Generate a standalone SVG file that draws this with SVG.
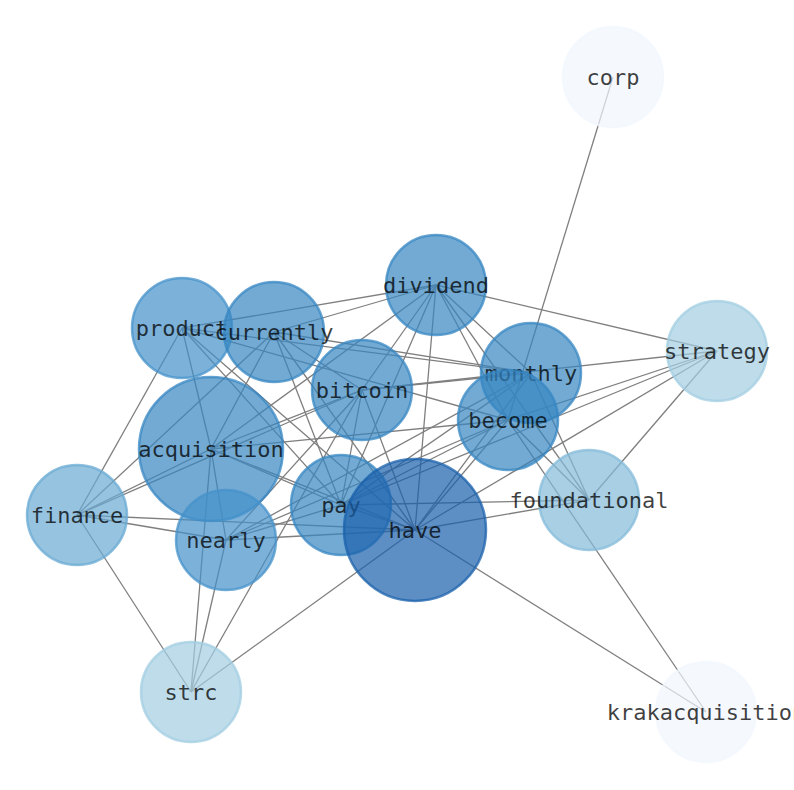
<svg xmlns="http://www.w3.org/2000/svg" width="794" height="790" viewBox="0 0 794 790">
<style>
.e line{stroke:#7f7f7f;stroke-width:1.3}
.n circle{stroke-width:2.5;fill-opacity:0.7;stroke-opacity:0.75}
.n text{font-family:"DejaVu Sans Mono",monospace;font-size:22px;fill:#000;fill-opacity:0.75;text-anchor:middle;dominant-baseline:central}
.c1{fill:#1a60ab;stroke:#1a60ab}
.c2{fill:#3686c2;stroke:#3686c2}
.c3{fill:#4592ca;stroke:#4592ca}
.c4{fill:#68a9d3;stroke:#68a9d3}
.c5{fill:#84bbda;stroke:#84bbda}
.c6{fill:#a2cde1;stroke:#a2cde1}
.c7{fill:#f1f7fe;stroke:#f1f7fe}
</style>
<rect width="794" height="790" fill="#fff"/>
<g id="edges" class="e">
<line x1="613" y1="77" x2="508" y2="420"/>
<line x1="706" y1="712" x2="415" y2="530"/>
<line x1="706" y1="712" x2="508" y2="420"/>
<line x1="436" y1="285" x2="182" y2="328"/>
<line x1="436" y1="285" x2="274" y2="332"/>
<line x1="436" y1="285" x2="717" y2="351"/>
<line x1="436" y1="285" x2="531" y2="373"/>
<line x1="436" y1="285" x2="508" y2="420"/>
<line x1="436" y1="285" x2="589" y2="500"/>
<line x1="436" y1="285" x2="362" y2="390"/>
<line x1="436" y1="285" x2="341" y2="505"/>
<line x1="436" y1="285" x2="415" y2="530"/>
<line x1="436" y1="285" x2="211" y2="449"/>
<line x1="717" y1="351" x2="362" y2="390"/>
<line x1="717" y1="351" x2="508" y2="420"/>
<line x1="717" y1="351" x2="415" y2="530"/>
<line x1="717" y1="351" x2="341" y2="505"/>
<line x1="717" y1="351" x2="589" y2="500"/>
<line x1="182" y1="328" x2="531" y2="373"/>
<line x1="182" y1="328" x2="508" y2="420"/>
<line x1="182" y1="328" x2="77" y2="515"/>
<line x1="182" y1="328" x2="211" y2="449"/>
<line x1="182" y1="328" x2="341" y2="505"/>
<line x1="182" y1="328" x2="415" y2="530"/>
<line x1="274" y1="332" x2="531" y2="373"/>
<line x1="274" y1="332" x2="77" y2="515"/>
<line x1="274" y1="332" x2="211" y2="449"/>
<line x1="274" y1="332" x2="341" y2="505"/>
<line x1="274" y1="332" x2="415" y2="530"/>
<line x1="274" y1="332" x2="362" y2="390"/>
<line x1="362" y1="390" x2="531" y2="373"/>
<line x1="362" y1="390" x2="211" y2="449"/>
<line x1="362" y1="390" x2="77" y2="515"/>
<line x1="362" y1="390" x2="341" y2="505"/>
<line x1="362" y1="390" x2="415" y2="530"/>
<line x1="362" y1="390" x2="226" y2="540"/>
<line x1="362" y1="390" x2="191" y2="692"/>
<line x1="211" y1="449" x2="341" y2="505"/>
<line x1="211" y1="449" x2="415" y2="530"/>
<line x1="211" y1="449" x2="226" y2="540"/>
<line x1="211" y1="449" x2="77" y2="515"/>
<line x1="211" y1="449" x2="191" y2="692"/>
<line x1="211" y1="449" x2="508" y2="420"/>
<line x1="77" y1="515" x2="226" y2="540"/>
<line x1="77" y1="515" x2="415" y2="530"/>
<line x1="77" y1="515" x2="191" y2="692"/>
<line x1="226" y1="540" x2="341" y2="505"/>
<line x1="226" y1="540" x2="415" y2="530"/>
<line x1="226" y1="540" x2="191" y2="692"/>
<line x1="226" y1="540" x2="508" y2="420"/>
<line x1="226" y1="540" x2="531" y2="373"/>
<line x1="341" y1="505" x2="415" y2="530"/>
<line x1="341" y1="505" x2="531" y2="373"/>
<line x1="341" y1="505" x2="508" y2="420"/>
<line x1="341" y1="505" x2="589" y2="500"/>
<line x1="415" y1="530" x2="531" y2="373"/>
<line x1="415" y1="530" x2="508" y2="420"/>
<line x1="415" y1="530" x2="589" y2="500"/>
<line x1="415" y1="530" x2="191" y2="692"/>
<line x1="531" y1="373" x2="589" y2="500"/>
<line x1="508" y1="420" x2="589" y2="500"/>
</g>
<g id="n-corp" class="n"><circle class="c7" cx="613" cy="77" r="50"/><text x="613" y="77">corp</text></g>
<g id="n-dividend" class="n"><circle class="c2" cx="436" cy="285" r="50"/><text x="436" y="285">dividend</text></g>
<g id="n-product" class="n"><circle class="c3" cx="182" cy="328" r="50"/><text x="182" y="328">product</text></g>
<g id="n-currently" class="n"><circle class="c2" cx="274" cy="332" r="50"/><text x="274" y="332">currently</text></g>
<g id="n-strategy" class="n"><circle class="c6" cx="717" cy="351" r="50"/><text x="717" y="351">strategy</text></g>
<g id="n-monthly" class="n"><circle class="c2" cx="531" cy="373" r="50"/><text x="531" y="373">monthly</text></g>
<g id="n-bitcoin" class="n"><circle class="c2" cx="362" cy="390" r="50"/><text x="362" y="390">bitcoin</text></g>
<g id="n-become" class="n"><circle class="c2" cx="508" cy="420" r="50"/><text x="508" y="420">become</text></g>
<g id="n-acquisition" class="n"><circle class="c2" cx="211" cy="449" r="72"/><text x="211" y="449">acquisition</text></g>
<g id="n-finance" class="n"><circle class="c4" cx="77" cy="515" r="50"/><text x="77" y="515">finance</text></g>
<g id="n-pay" class="n"><circle class="c2" cx="341" cy="505" r="50"/><text x="341" y="505">pay</text></g>
<g id="n-have" class="n"><circle class="c1" cx="415" cy="530" r="71"/><text x="415" y="530">have</text></g>
<g id="n-foundational" class="n"><circle class="c5" cx="589" cy="500" r="50"/><text x="589" y="500">foundational</text></g>
<g id="n-nearly" class="n"><circle class="c3" cx="226" cy="540" r="50"/><text x="226" y="540">nearly</text></g>
<g id="n-strc" class="n"><circle class="c6" cx="191" cy="692" r="50"/><text x="191" y="692">strc</text></g>
<g id="n-krakacquisition" class="n"><circle class="c7" cx="706" cy="712" r="50"/><text x="706" y="712">krakacquisition</text></g>
</svg>
